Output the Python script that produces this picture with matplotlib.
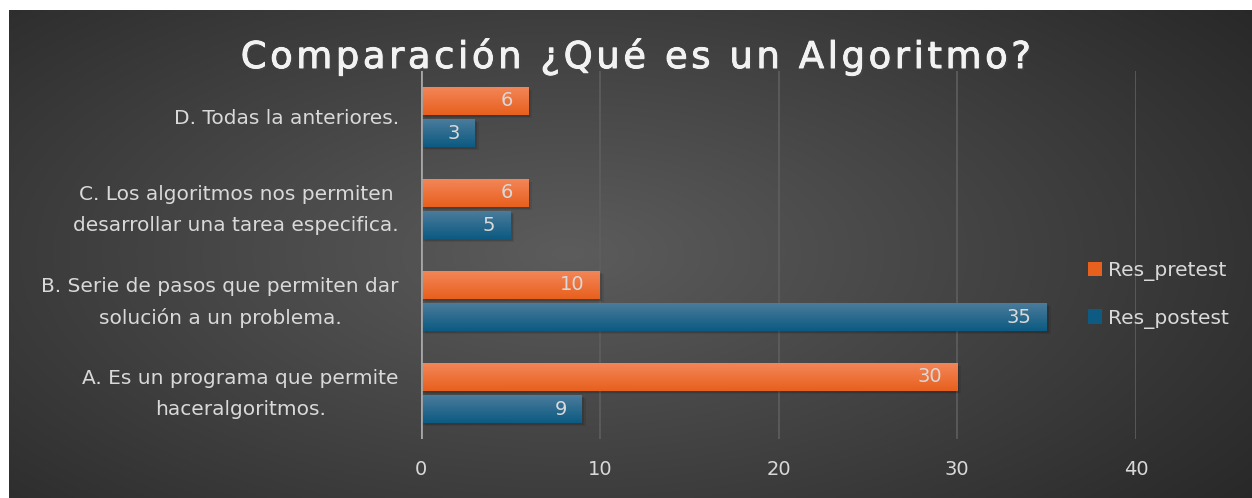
import matplotlib.pyplot as plt
import matplotlib.patheffects as pe
import matplotlib.transforms as mtransforms
import numpy as np

# datos
categorias = ['A. Es un programa que permite\nhaceralgoritmos.',
              'B. Serie de pasos que permiten dar\nsolución a un problema.',
              'C. Los algoritmos nos permiten\ndesarrollar una tarea especifica.',
              'D. Todas la anteriores.']
res_pretest = [30, 10, 6, 6]
res_postest = [9, 35, 5, 3]
ticks_x = [0, 10, 20, 30, 40]

naranja_top, naranja_bot = '#F3875A', '#E8601E'
azul_top, azul_bot = '#4C7D9C', '#0D5A82'
gris_txt = '#D9D9D9'

fig = plt.figure(figsize=(12.52, 4.98), dpi=100)
fig.patch.set_facecolor('white')

# fondo con degradado radial
bg = fig.add_axes([9 / 1252, 0, 1 - 9 / 1252, 1 - 10 / 498])
yy, xx = np.mgrid[0:1:300j, 0:1:700j]
r = np.sqrt(((xx - 0.45) / 0.75) ** 2 + ((yy - 0.5) / 0.9) ** 2)
r = np.clip(r, 0, 1)
c0, c1 = np.array([0x5C, 0x5C, 0x5C]) / 255, np.array([0x24, 0x24, 0x24]) / 255
img = c0[None, None, :] * (1 - r[..., None]) + c1[None, None, :] * r[..., None]
bg.imshow(img, aspect='auto', extent=[0, 1, 0, 1], origin='upper')
bg.set_axis_off()

ax = fig.add_axes([421 / 1252, 1 - 439 / 498, (1136 - 421) / 1252, (439 - 71) / 498])
ax.patch.set_alpha(0)

y = np.arange(len(categorias))
h = 0.305
off = 0.175


def degradado(bars, top, bot):
    grad = np.linspace(0, 1, 50)[:, None]
    ct = np.array(plt.matplotlib.colors.to_rgb(top))
    cb = np.array(plt.matplotlib.colors.to_rgb(bot))
    col = ct[None, None, :] * (1 - grad[..., None]) + cb[None, None, :] * grad[..., None]
    col = np.repeat(col, 2, axis=1)
    for b in bars:
        x0, y0 = b.get_x(), b.get_y()
        w, hh = b.get_width(), b.get_height()
        # sombra
        for k, a in ((0.12, 0.12), (0.22, 0.08)):
            ax.add_patch(plt.Rectangle((x0 + k, y0 - k * 0.15), w, hh, color='black',
                                       alpha=a, zorder=2, lw=0))
        im = ax.imshow(col, extent=[x0, x0 + w, y0, y0 + hh], aspect='auto',
                       origin='upper', zorder=3)
        im.set_clip_path(b)


b1 = ax.barh(y + off, res_pretest, height=h, color=naranja_bot, zorder=3, label='Res_pretest')
b2 = ax.barh(y - off, res_postest, height=h, color=azul_bot, zorder=3, label='Res_postest')
degradado(b1, naranja_top, naranja_bot)
degradado(b2, azul_top, azul_bot)

for bars in (b1, b2):
    for b, v in zip(bars, bars.datavalues):
        ax.text(b.get_width() - 0.85, b.get_y() + b.get_height() / 2, str(int(v)),
                ha='right', va='center', color=gris_txt, fontsize=14, zorder=5)

ax.set_xlim(0, 40)
ax.set_ylim(-0.5, len(categorias) - 0.5)
ax.set_xticks(ticks_x)
ax.set_yticks(y)
ax.set_yticklabels(categorias, multialignment='center', linespacing=1.75)
ax.tick_params(axis='y', length=0, pad=16, labelsize=14.5, labelcolor=gris_txt)
ax.tick_params(axis='x', length=0, pad=15, labelsize=14, labelcolor=gris_txt)
# subir un poco las etiquetas de dos lineas
for lab in ax.get_yticklabels():
    if '\n' in lab.get_text():
        lab.set_transform(lab.get_transform() +
                          mtransforms.ScaledTranslation(0, 0.065, fig.dpi_scale_trans))
ax.grid(axis='x', color='#5E5E5E', lw=1.2, zorder=0)
for s in ax.spines.values():
    s.set_visible(False)
ax.axvline(0, color='#A6A6A6', lw=2, zorder=4)

leg = fig.legend(handles=[b1, b2], loc='center left', bbox_to_anchor=(1070 / 1252, 1 - 295 / 498),
                 frameon=False, fontsize=14.5, labelcolor=gris_txt, handlelength=0.7,
                 handleheight=0.7, handletextpad=0.3, labelspacing=1.35)

titulo = '\u200a'.join('Comparación ¿Qué es un Algoritmo?')
fig.text(635 / 1252, 1 - 57 / 498, titulo, ha='center', va='center', fontsize=26.5,
         color='#F2F2F2',
         path_effects=[pe.withSimplePatchShadow(offset=(1.5, -1.5), alpha=0.5),
                       pe.Stroke(linewidth=0.7, foreground='#F2F2F2'), pe.Normal()])

fig.savefig('out.png', dpi=100)
